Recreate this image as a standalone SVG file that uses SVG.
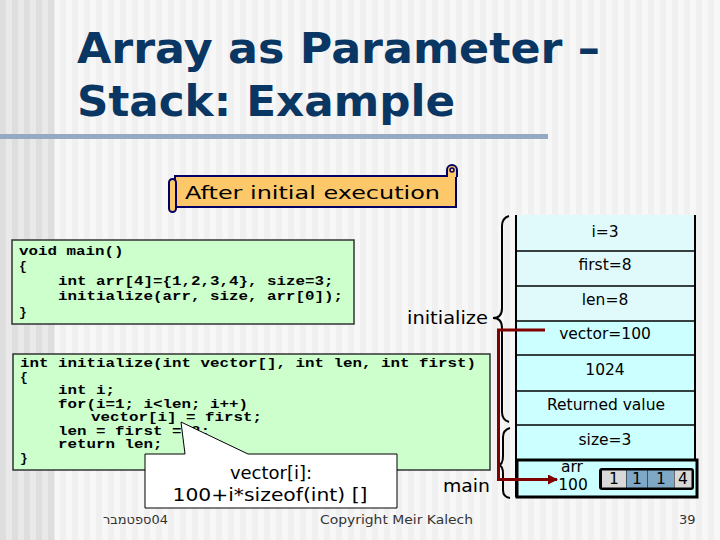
<svg xmlns="http://www.w3.org/2000/svg" width="720" height="540" viewBox="0 0 720 540">
<defs>
<pattern id="bgL" width="12" height="10" patternUnits="userSpaceOnUse"><rect width="12" height="10" fill="#dedede"/><rect x="6" width="6" height="10" fill="#e9e9e9"/></pattern>
<pattern id="bgR" width="12" height="10" patternUnits="userSpaceOnUse"><rect width="12" height="10" fill="#f0f0f0"/><rect x="6" width="6" height="10" fill="#f7f7f7"/></pattern>
<marker id="arr" markerWidth="10" markerHeight="10" refX="9" refY="5" orient="auto" markerUnits="userSpaceOnUse"><path d="M0,0 L10,5 L0,10 Z" fill="#800000"/></marker>
<style>
.title{font-family:"DejaVu Sans",Verdana,sans-serif;font-weight:bold;font-size:42px;fill:#0a3663}
.code{font-family:"Liberation Mono","Courier New",monospace;font-weight:bold;font-size:13px;fill:#000}
.codebox{fill:#ccffcc;stroke:#333;stroke-width:1.5}
.lbl{font-family:"DejaVu Sans",Tahoma,sans-serif;font-size:18px;fill:#000}
.cell{font-family:"DejaVu Sans",Tahoma,sans-serif;font-size:15.5px;fill:#000;text-anchor:middle}
.foot{font-family:"DejaVu Sans",Tahoma,sans-serif;font-size:13px;fill:#333}
.brace{fill:none;stroke:#000;stroke-width:2}
.sep{stroke:#000;stroke-width:1.5}
</style>
</defs>
<rect width="720" height="540" fill="url(#bgR)"/>
<rect width="55" height="540" fill="url(#bgL)"/>

<g id="title">
<text class="title" x="77" y="63" textLength="523" lengthAdjust="spacingAndGlyphs">Array as Parameter –</text>
<text class="title" x="77" y="116" textLength="378" lengthAdjust="spacingAndGlyphs">Stack: Example</text>
<rect x="0" y="134" width="548" height="5" fill="#93a9c4"/>
</g>

<g id="scroll">
<rect x="175" y="176" width="281" height="31" fill="#fdc86a" stroke="#000066" stroke-width="2"/>
<path d="M447,177 V170 A5,5 0 0 1 457,170 V177" fill="#fdc86a" stroke="#000066" stroke-width="2"/>
<circle cx="452" cy="170" r="2" fill="none" stroke="#000066" stroke-width="1.5"/>
<rect x="169" y="179" width="7" height="33" rx="3.5" fill="#fdc86a" stroke="#000066" stroke-width="2"/>
<text class="lbl" x="185" y="199" font-size="21" textLength="255" lengthAdjust="spacingAndGlyphs">After initial execution</text>
</g>

<g id="mainCode">
<rect class="codebox" x="12" y="240" width="342" height="84"/>
<text class="code" x="19" y="255" textLength="104.5" lengthAdjust="spacingAndGlyphs">void main()</text>
<text class="code" x="19" y="270">{</text>
<text class="code" x="58" y="285" textLength="275.5" lengthAdjust="spacingAndGlyphs">int arr[4]={1,2,3,4}, size=3;</text>
<text class="code" x="58" y="300" textLength="285" lengthAdjust="spacingAndGlyphs">initialize(arr, size, arr[0]);</text>
<text class="code" x="19" y="316">}</text>
</g>

<g id="initCode">
<rect class="codebox" x="13" y="354" width="477" height="116"/>
<text class="code" x="20" y="367" textLength="456" lengthAdjust="spacingAndGlyphs">int initialize(int vector[], int len, int first)</text>
<text class="code" x="20" y="381">{</text>
<text class="code" x="58" y="394" textLength="57" lengthAdjust="spacingAndGlyphs">int i;</text>
<text class="code" x="58" y="408" textLength="190" lengthAdjust="spacingAndGlyphs">for(i=1; i&lt;len; i++)</text>
<text class="code" x="91" y="421" textLength="171" lengthAdjust="spacingAndGlyphs">vector[i] = first;</text>
<text class="code" x="58" y="435" textLength="152" lengthAdjust="spacingAndGlyphs">len = first = 8;</text>
<text class="code" x="58" y="448" textLength="104.5" lengthAdjust="spacingAndGlyphs">return len;</text>
<text class="code" x="20" y="462">}</text>
</g>

<g id="callout">
<path d="M145,454 H185 L181,422 L248,454 H397 V508 H145 Z" fill="#fff" stroke="#000" stroke-width="1"/>
<text class="lbl" x="271" y="479" text-anchor="middle">vector[i]:</text>
<text class="lbl" x="270" y="501" text-anchor="middle" textLength="195" lengthAdjust="spacingAndGlyphs">100+i*sizeof(int) []</text>
</g>

<g id="labels">
<text class="lbl" x="407" y="324" textLength="81" lengthAdjust="spacingAndGlyphs">initialize</text>
<text class="lbl" x="443" y="492" textLength="47" lengthAdjust="spacingAndGlyphs">main</text>
</g>

<g id="stack">
<rect x="516" y="215" width="179" height="106" fill="#e0fafb"/>
<rect x="516" y="321" width="179" height="176" fill="#ccffff"/>
<line x1="516" y1="215" x2="516" y2="497" stroke="#000" stroke-width="2"/>
<line x1="695" y1="215" x2="695" y2="460" stroke="#000" stroke-width="2"/>
<line class="sep" x1="516" y1="251" x2="695" y2="251"/>
<line class="sep" x1="516" y1="286" x2="695" y2="286"/>
<line class="sep" x1="516" y1="321" x2="695" y2="321"/>
<line class="sep" x1="516" y1="355" x2="695" y2="355"/>
<line class="sep" x1="516" y1="391" x2="695" y2="391"/>
<line class="sep" x1="516" y1="425" x2="695" y2="425"/>
<rect x="517" y="460" width="180" height="37" fill="#ccffff" stroke="#000" stroke-width="3"/>
<text class="cell" x="605" y="237">i=3</text>
<text class="cell" x="605" y="270">first=8</text>
<text class="cell" x="605" y="305">len=8</text>
<text class="cell" x="605" y="339">vector=100</text>
<text class="cell" x="605" y="375">1024</text>
<text class="cell" x="606" y="410">Returned value</text>
<text class="cell" x="605" y="445">size=3</text>
<text class="cell" x="572" y="472" font-size="13">arr</text>
<text class="cell" x="573" y="490" font-size="14">100</text>
</g>

<g id="array">
<rect x="599" y="468" width="95" height="22" rx="3" fill="#000"/>
<rect x="602" y="470.5" width="24" height="17" fill="#d9d9d9"/>
<rect x="626.5" y="470.5" width="20.5" height="17" fill="#7fa8c6"/>
<rect x="647.5" y="470.5" width="26.5" height="17" fill="#7fa8c6"/>
<rect x="674.5" y="470.5" width="17" height="17" fill="#d9d9d9"/>
<text class="cell" x="614" y="484" font-size="12">1</text>
<text class="cell" x="637" y="484" font-size="12">1</text>
<text class="cell" x="661" y="484" font-size="12">1</text>
<text class="cell" x="683" y="484" font-size="12">4</text>
</g>

<g id="connectors">
<path class="brace" d="M509,216 Q502,218 502,226 V308 Q502,318 493,318 Q502,318 502,328 V412 Q502,420 509,422"/>
<path class="brace" d="M510,428 Q503,430 503,437 V456 Q503,465 498,465 Q503,465 503,474 V490 Q503,497 510,498"/>
<path d="M545,330 H498.5 V479.5 H557" fill="none" stroke="#800000" stroke-width="3" marker-end="url(#arr)"/>
</g>

<g id="footer">
<text class="foot" x="103" y="524" textLength="65" lengthAdjust="spacingAndGlyphs">ספטמבר&#x200E;04</text>
<text class="foot" x="320" y="524" textLength="153" lengthAdjust="spacingAndGlyphs">Copyright Meir Kalech</text>
<text class="foot" x="679" y="524">39</text>
</g>
</svg>
